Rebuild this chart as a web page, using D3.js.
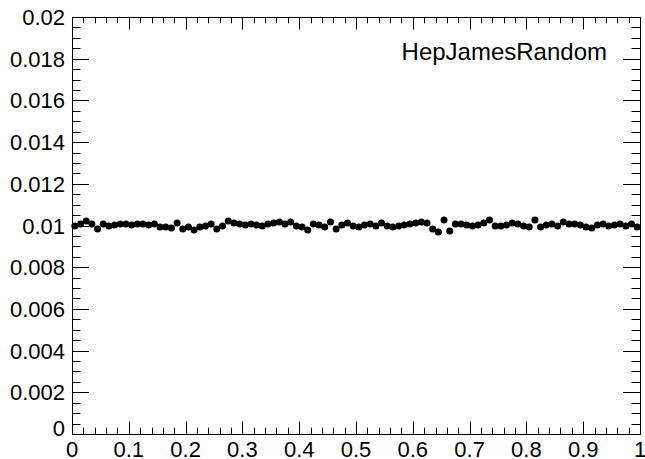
<!DOCTYPE html>
<html>
<head>
<meta charset="utf-8">
<script src="https://cdn.jsdelivr.net/npm/d3@7"></script>
<style>
  body { margin: 0; background: #fff; overflow: hidden; }
  svg { display: block; font-family: "Liberation Sans", Arial, Helvetica, sans-serif; }
</style>
</head>
<body>
<div id="chart"></div>
<script>
// Bin contents (100 bins, 0..1)
var binValues = [
  0.00998, 0.01007, 0.01022, 0.01007, 0.00983, 0.01007, 0.00998, 0.01002, 0.01007, 0.01007,
  0.01002, 0.01007, 0.01007, 0.01002, 0.01007, 0.00993, 0.00993, 0.00988, 0.01012, 0.00983,
  0.00993, 0.00978, 0.00993, 0.00998, 0.01007, 0.00983, 0.00998, 0.01022, 0.01012, 0.01007,
  0.01002, 0.01007, 0.01002, 0.00998, 0.01007, 0.01012, 0.01017, 0.01007, 0.01017, 0.00998,
  0.00993, 0.00978, 0.01007, 0.01002, 0.00993, 0.01017, 0.00983, 0.01002, 0.01012, 0.00998,
  0.00993, 0.01002, 0.01007, 0.00998, 0.01012, 0.00998, 0.00993, 0.00998, 0.01002, 0.01007,
  0.01012, 0.01017, 0.01012, 0.00983, 0.00969, 0.01026, 0.00974, 0.01007, 0.01007, 0.01002,
  0.00998, 0.01002, 0.01012, 0.01026, 0.00998, 0.00998, 0.01002, 0.01012, 0.01007, 0.00998,
  0.00993, 0.01026, 0.00993, 0.01002, 0.01007, 0.00998, 0.01017, 0.01007, 0.01007, 0.01002,
  0.00993, 0.00988, 0.01002, 0.01007, 0.00998, 0.01002, 0.01007, 0.00998, 0.01007, 0.00993
];
var xTickLabels = ['0', '0.1', '0.2', '0.3', '0.4', '0.5', '0.6', '0.7', '0.8', '0.9', '1'];
var yTickLabels = ['0', '0.002', '0.004', '0.006', '0.008', '0.01', '0.012', '0.014', '0.016', '0.018', '0.02'];
var titleText = 'HepJamesRandom';

(function() {
  var W = 645, H = 459;
  var padL = 72, padR = 640, padT = 17, padB = 434;

  var svg = d3.select('#chart').append('svg').attr('width', W).attr('height', H);

  var x = d3.scaleLinear().domain([0, 1]).range([padL, padR]);
  var y = d3.scaleLinear().domain([0, 0.02]).range([padB, padT]);

  var xMajor = xTickLabels.map(Number);
  var yMajor = yTickLabels.map(Number);
  var xMinor = d3.range(0, 51).map(function(i) { return i * 0.02; });
  var yMinor = d3.range(0, 41).map(function(i) { return i * 0.0005; });

  var xMajLen = 12.5, xMinLen = 6.3, yMajLen = 17, yMinLen = 8.5;

  var g = svg.append('g').attr('stroke', '#000').attr('stroke-width', 1).attr('fill', 'none');

  // frame
  g.append('rect').attr('x', padL + 0.5).attr('y', padT + 0.5)
    .attr('width', padR - padL).attr('height', padB - padT);

  // x ticks (bottom + top)
  xMinor.forEach(function(v, i) {
    var len = (i % 5 === 0) ? xMajLen : xMinLen;
    var px = Math.round(x(v)) + 0.5;
    g.append('line').attr('x1', px).attr('x2', px).attr('y1', padB).attr('y2', padB - len);
    g.append('line').attr('x1', px).attr('x2', px).attr('y1', padT).attr('y2', padT + len);
  });

  // y ticks (left + right)
  yMinor.forEach(function(v, i) {
    var len = (i % 4 === 0) ? yMajLen : yMinLen;
    var py = Math.round(y(v)) + 0.5;
    g.append('line').attr('x1', padL).attr('x2', padL + len).attr('y1', py).attr('y2', py);
    g.append('line').attr('x1', padR).attr('x2', padR - len).attr('y1', py).attr('y2', py);
  });

  // tick labels
  svg.selectAll('text.xl').data(xMajor).join('text')
    .attr('class', 'xl')
    .attr('x', function(d) { return x(d); })
    .attr('y', 457)
    .attr('text-anchor', 'middle')
    .attr('font-size', 22)
    .text(function(d, i) { return xTickLabels[i]; });

  svg.selectAll('text.yl').data(yMajor).join('text')
    .attr('class', 'yl')
    .attr('x', 65)
    .attr('y', function(d) { return d === 0 ? y(d) + 2 : y(d) + 8; })
    .attr('text-anchor', 'end')
    .attr('font-size', 22)
    .text(function(d, i) { return yTickLabels[i]; });

  // markers
  svg.append('g').selectAll('circle').data(binValues).join('circle')
    .attr('cx', function(d, i) { return x((i + 0.5) / binValues.length); })
    .attr('cy', function(d) { return y(d); })
    .attr('r', 3.5)
    .attr('fill', '#000');

  // title
  svg.append('text')
    .attr('x', 607).attr('y', 60)
    .attr('text-anchor', 'end')
    .attr('font-size', 24)
    .text(titleText);
})();
</script>
</body>
</html>
